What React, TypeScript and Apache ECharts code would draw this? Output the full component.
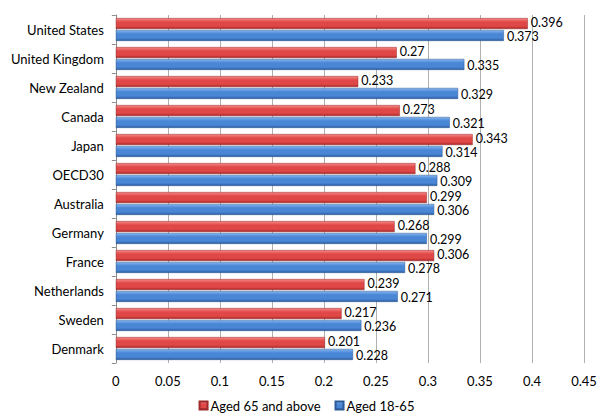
import { useEffect, useRef } from "react";
import * as echarts from "echarts";

const countries = [
  "United States",
  "United Kingdom",
  "New Zealand",
  "Canada",
  "Japan",
  "OECD30",
  "Australia",
  "Germany",
  "France",
  "Netherlands",
  "Sweden",
  "Denmark",
];
const aged65 = [0.396, 0.27, 0.233, 0.273, 0.343, 0.288, 0.299, 0.268, 0.306, 0.239, 0.217, 0.201];
const aged18 = [0.373, 0.335, 0.329, 0.321, 0.314, 0.309, 0.306, 0.299, 0.278, 0.271, 0.236, 0.228];

const font = "Lato, 'Open Sans', sans-serif";

const grad = (light: string, mid: string, dark: string) =>
  new echarts.graphic.LinearGradient(0, 0, 0, 1, [
    { offset: 0, color: light },
    { offset: 0.35, color: mid },
    { offset: 0.75, color: mid },
    { offset: 1, color: dark },
  ]);

export default function App() {
  const chartRef = useRef<HTMLDivElement>(null);

  useEffect(() => {
    if (!chartRef.current) return;
    const chart = echarts.init(chartRef.current, null, { renderer: "svg" });

    const label = (dy: number) => ({
      show: true,
      position: "right" as const,
      distance: 3,
      offset: [0, dy],
      color: "#000",
      fontSize: 12.5,
      lineHeight: 12,
      fontFamily: font,
    });

    chart.setOption({
      animation: false,
      backgroundColor: "#fff",
      textStyle: { fontFamily: font },
      legend: {
        bottom: 3,
        left: "center",
        itemWidth: 8,
        itemHeight: 8,
        itemGap: 14,
        icon: "rect",
        textStyle: { fontSize: 13, color: "#000", fontFamily: font, padding: [0, 0, 0, -2] },
        data: ["Aged 65 and above", "Aged 18-65"],
      },
      grid: { left: 98, right: 21, top: 7, bottom: 57, containLabel: false },
      xAxis: {
        type: "value",
        min: 0,
        max: 0.45,
        interval: 0.05,
        axisLine: { show: false },
        axisTick: { show: false },
        axisLabel: {
          color: "#000",
          fontSize: 13,
          fontFamily: font,
          margin: 11,
          formatter: (v: number) => String(parseFloat(v.toFixed(2))),
        },
        splitLine: { show: true, lineStyle: { color: "#b0b0b0", width: 1 } },
      },
      yAxis: {
        type: "category",
        data: countries,
        inverse: true,
        axisLine: { show: true, lineStyle: { color: "#8c8c8c" } },
        axisTick: { show: true, length: 4, lineStyle: { color: "#8c8c8c" } },
        axisLabel: { color: "#000", fontSize: 13, fontFamily: font, margin: 12 },
      },
      series: [
        {
          name: "Aged 65 and above",
          type: "bar",
          data: aged65,
          barWidth: 11,
          barGap: "8%",
          itemStyle: {
            color: grad("#f58a8a", "#e04848", "#a42424"),
            borderColor: "#9c2a2a",
            borderWidth: 0.5,
          },
          label: label(-1.5),
        },
        {
          name: "Aged 18-65",
          type: "bar",
          data: aged18,
          barWidth: 11,
          barGap: "8%",
          itemStyle: {
            color: grad("#86b6ee", "#4a86d6", "#2a5b9c"),
            borderColor: "#2c5a96",
            borderWidth: 0.5,
          },
          label: label(1.5),
        },
      ],
    });

    return () => chart.dispose();
  }, []);

  return <div ref={chartRef} style={{ width: 597, height: 412 }} />;
}
